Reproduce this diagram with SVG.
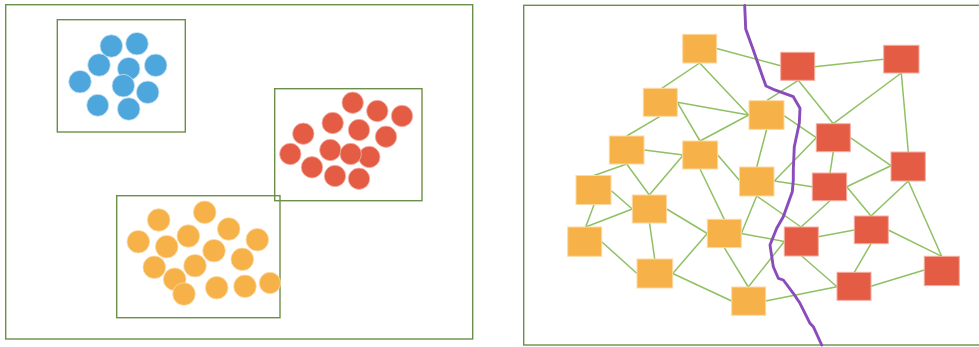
<svg xmlns="http://www.w3.org/2000/svg" width="979" height="347" viewBox="0 0 979 347">
<style>
.frame{fill:none;stroke:#6b8f47;stroke-width:1.4}
.blue{fill:#4da6dc;stroke:#cfe6f5;stroke-width:0.8}
.red{fill:#e45c43;stroke:#f4b4a8;stroke-width:0.8}
.org{fill:#f6b249;stroke:#fbdca7;stroke-width:0.8}
.edge{stroke:#8fc163;stroke-width:1.5;fill:none}
.sq-o{fill:#f6b249;stroke:#fcd9a2;stroke-width:1}
.sq-r{fill:#e45c43;stroke:#f3ada0;stroke-width:1}
.river{fill:none;stroke:#8a4bbb;stroke-width:2.9;stroke-linejoin:round;stroke-linecap:round}
</style>
<rect width="979" height="347" fill="#ffffff"/>
<!-- Left panel -->
<g id="left-panel">
<rect class="frame" x="5.7" y="4.7" width="467" height="334.3"/>
</g>
<g id="cluster-blue">
<rect class="frame" x="57.3" y="19.7" width="128" height="112.3"/>
<circle class="blue" cx="111.3" cy="46" r="11.3"/>
<circle class="blue" cx="137" cy="43.7" r="11.3"/>
<circle class="blue" cx="99" cy="65" r="11.3"/>
<circle class="blue" cx="128.7" cy="68.7" r="11.3"/>
<circle class="blue" cx="155.7" cy="65.3" r="11.3"/>
<circle class="blue" cx="80" cy="81.7" r="11.3"/>
<circle class="blue" cx="123.3" cy="85.7" r="11.3"/>
<circle class="blue" cx="147.7" cy="92.3" r="11.3"/>
<circle class="blue" cx="97.7" cy="105.3" r="11"/>
<circle class="blue" cx="128.7" cy="109" r="11.3"/>
</g>
<g id="cluster-red">
<rect class="frame" x="274.7" y="88.7" width="147.3" height="112"/>
<circle class="red" cx="352.7" cy="102.7" r="10.7"/>
<circle class="red" cx="377.3" cy="111" r="10.7"/>
<circle class="red" cx="402" cy="116" r="10.7"/>
<circle class="red" cx="332.7" cy="123" r="10.7"/>
<circle class="red" cx="359" cy="130" r="10.7"/>
<circle class="red" cx="303.3" cy="133.7" r="10.7"/>
<circle class="red" cx="386" cy="136.7" r="10.7"/>
<circle class="red" cx="290.3" cy="154" r="10.7"/>
<circle class="red" cx="330.3" cy="150" r="10.7"/>
<circle class="red" cx="369.3" cy="157" r="10.7"/>
<circle class="red" cx="350.7" cy="154" r="10.7"/>
<circle class="red" cx="312" cy="167.3" r="10.7"/>
<circle class="red" cx="335" cy="176" r="10.7"/>
<circle class="red" cx="359" cy="178.7" r="10.7"/>
</g>
<g id="cluster-orange">
<rect class="frame" x="116.7" y="195.7" width="163.3" height="122"/>
<circle class="org" cx="158.7" cy="220" r="11.3"/>
<circle class="org" cx="204.7" cy="212.3" r="11.3"/>
<circle class="org" cx="138.3" cy="241.7" r="11.3"/>
<circle class="org" cx="166.7" cy="246.7" r="11.3"/>
<circle class="org" cx="188.3" cy="236" r="11.3"/>
<circle class="org" cx="228.7" cy="229" r="11.3"/>
<circle class="org" cx="257.3" cy="239.7" r="11.3"/>
<circle class="org" cx="214" cy="250.7" r="11.3"/>
<circle class="org" cx="154.3" cy="267.3" r="11.3"/>
<circle class="org" cx="195" cy="265.7" r="11.3"/>
<circle class="org" cx="242.3" cy="259.3" r="11.3"/>
<circle class="org" cx="174.7" cy="279.3" r="11.3"/>
<circle class="org" cx="184" cy="294" r="11.3"/>
<circle class="org" cx="216.7" cy="287.7" r="11.3"/>
<circle class="org" cx="245" cy="286.3" r="11.3"/>
<circle class="org" cx="270" cy="283" r="10.7"/>
</g>
<!-- Right panel -->
<g id="right-panel">
<rect class="frame" x="523.7" y="5.3" width="470" height="339.7"/>
</g>
<g id="connectors">
<line class="edge" x1="716.7" y1="48.5" x2="780.7" y2="65.7"/>
<line class="edge" x1="699.7" y1="63" x2="661.7" y2="88.3"/>
<line class="edge" x1="699.7" y1="63" x2="748.7" y2="115"/>
<line class="edge" x1="677.3" y1="102.3" x2="748.7" y2="115"/>
<line class="edge" x1="660" y1="116.3" x2="626.7" y2="136"/>
<line class="edge" x1="677.3" y1="102.3" x2="700" y2="141"/>
<line class="edge" x1="700" y1="141" x2="748.7" y2="115"/>
<line class="edge" x1="644.3" y1="150" x2="683.3" y2="155"/>
<line class="edge" x1="626.7" y1="164" x2="594" y2="175.5"/>
<line class="edge" x1="626.7" y1="164" x2="649.3" y2="195"/>
<line class="edge" x1="683.3" y1="155" x2="649.3" y2="195"/>
<line class="edge" x1="700" y1="169" x2="724.3" y2="219.3"/>
<line class="edge" x1="717.7" y1="155" x2="740" y2="181"/>
<line class="edge" x1="814.7" y1="66.7" x2="883.7" y2="59.3"/>
<line class="edge" x1="798.3" y1="80.3" x2="766.7" y2="100.7"/>
<line class="edge" x1="798.3" y1="80.3" x2="833.3" y2="123.7"/>
<line class="edge" x1="901.3" y1="73" x2="833.3" y2="123.7"/>
<line class="edge" x1="901.3" y1="73" x2="908.3" y2="152"/>
<line class="edge" x1="784" y1="115.7" x2="816.3" y2="137.7"/>
<line class="edge" x1="766.7" y1="129.3" x2="756.7" y2="167"/>
<line class="edge" x1="850.3" y1="137.7" x2="891" y2="165.7"/>
<line class="edge" x1="833.3" y1="151.7" x2="830" y2="173"/>
<line class="edge" x1="816.3" y1="137.7" x2="774.3" y2="181"/>
<line class="edge" x1="846.7" y1="186.7" x2="891" y2="165.7"/>
<line class="edge" x1="774.3" y1="181" x2="812.3" y2="186.7"/>
<line class="edge" x1="756.7" y1="196" x2="801" y2="227"/>
<line class="edge" x1="756.7" y1="196" x2="741.3" y2="233.5"/>
<line class="edge" x1="830" y1="200.7" x2="801" y2="227"/>
<line class="edge" x1="846.7" y1="186.7" x2="871" y2="216"/>
<line class="edge" x1="741.3" y1="233.5" x2="784.3" y2="241.5"/>
<line class="edge" x1="748.3" y1="287" x2="784.3" y2="241.5"/>
<line class="edge" x1="818.3" y1="236.7" x2="854.3" y2="230"/>
<line class="edge" x1="871" y1="216" x2="908.3" y2="181"/>
<line class="edge" x1="888.3" y1="230" x2="941.7" y2="256.3"/>
<line class="edge" x1="908.3" y1="181" x2="941.7" y2="256.3"/>
<line class="edge" x1="801.7" y1="256" x2="837" y2="286.7"/>
<line class="edge" x1="871" y1="243.7" x2="854.3" y2="272.3"/>
<line class="edge" x1="871" y1="286.3" x2="924.3" y2="270"/>
<line class="edge" x1="765.7" y1="301" x2="837" y2="286.7"/>
<line class="edge" x1="724.3" y1="247.7" x2="748.3" y2="287"/>
<line class="edge" x1="611.3" y1="190.7" x2="632.3" y2="209"/>
<line class="edge" x1="594" y1="204.7" x2="585.7" y2="227"/>
<line class="edge" x1="585.7" y1="227" x2="632.3" y2="209"/>
<line class="edge" x1="666.7" y1="209" x2="707.3" y2="233.5"/>
<line class="edge" x1="649.5" y1="223" x2="654.7" y2="259"/>
<line class="edge" x1="601.7" y1="241.7" x2="637" y2="273.5"/>
<line class="edge" x1="672.7" y1="273.5" x2="707.3" y2="233.5"/>
<line class="edge" x1="672.7" y1="273.5" x2="731.7" y2="301"/>
</g>
<g id="node-A"><rect class="sq-o" x="682.7" y="34.3" width="34" height="28.7"/></g>
<g id="node-B"><rect class="sq-o" x="643.3" y="88.3" width="34" height="28"/></g>
<g id="node-C"><rect class="sq-o" x="609.3" y="136" width="34.7" height="28"/></g>
<g id="node-D"><rect class="sq-o" x="682.7" y="141" width="35" height="28"/></g>
<g id="node-E"><rect class="sq-o" x="749" y="100.7" width="35" height="28.7"/></g>
<g id="node-F"><rect class="sq-o" x="576" y="175.5" width="35" height="29"/></g>
<g id="node-G"><rect class="sq-o" x="739.5" y="167" width="34.5" height="29"/></g>
<g id="node-H"><rect class="sq-o" x="632.3" y="195" width="34.3" height="28"/></g>
<g id="node-I"><rect class="sq-o" x="567.7" y="227" width="34" height="29.3"/></g>
<g id="node-J"><rect class="sq-o" x="707.3" y="219.3" width="34" height="28.3"/></g>
<g id="node-K"><rect class="sq-o" x="637" y="259" width="35.7" height="29"/></g>
<g id="node-L"><rect class="sq-o" x="731.7" y="287" width="34" height="28.3"/></g>
<g id="node-R1"><rect class="sq-r" x="780.7" y="52.3" width="34" height="28"/></g>
<g id="node-R2"><rect class="sq-r" x="883.7" y="45.3" width="35.3" height="27.7"/></g>
<g id="node-R3"><rect class="sq-r" x="816.3" y="123.7" width="34" height="28"/></g>
<g id="node-R4"><rect class="sq-r" x="891" y="152" width="34.3" height="29"/></g>
<g id="node-R5"><rect class="sq-r" x="812.3" y="173" width="34.4" height="27.7"/></g>
<g id="node-R6"><rect class="sq-r" x="784.3" y="227" width="34" height="29"/></g>
<g id="node-R7"><rect class="sq-r" x="854.3" y="216" width="34" height="27.7"/></g>
<g id="node-R8"><rect class="sq-r" x="924.3" y="256.3" width="35" height="29.3"/></g>
<g id="node-R9"><rect class="sq-r" x="837" y="272.3" width="34" height="28"/></g>
<g id="divider">
<polyline class="river" points="744.7,5.5 745.7,29 753.3,50 762.7,77 766,86 773.3,89.3 793.3,96.7 800,108.3 799.3,123.3 794.3,146.7 793.3,170 793.3,180 792.3,191.7 783.3,216.7 776.7,228.3 770,245 773.3,266.7 778.3,278.3 783.3,280 793.3,293.3 800,303.3 810,323.3 813.3,326.7 821.7,345"/>
</g>
</svg>
